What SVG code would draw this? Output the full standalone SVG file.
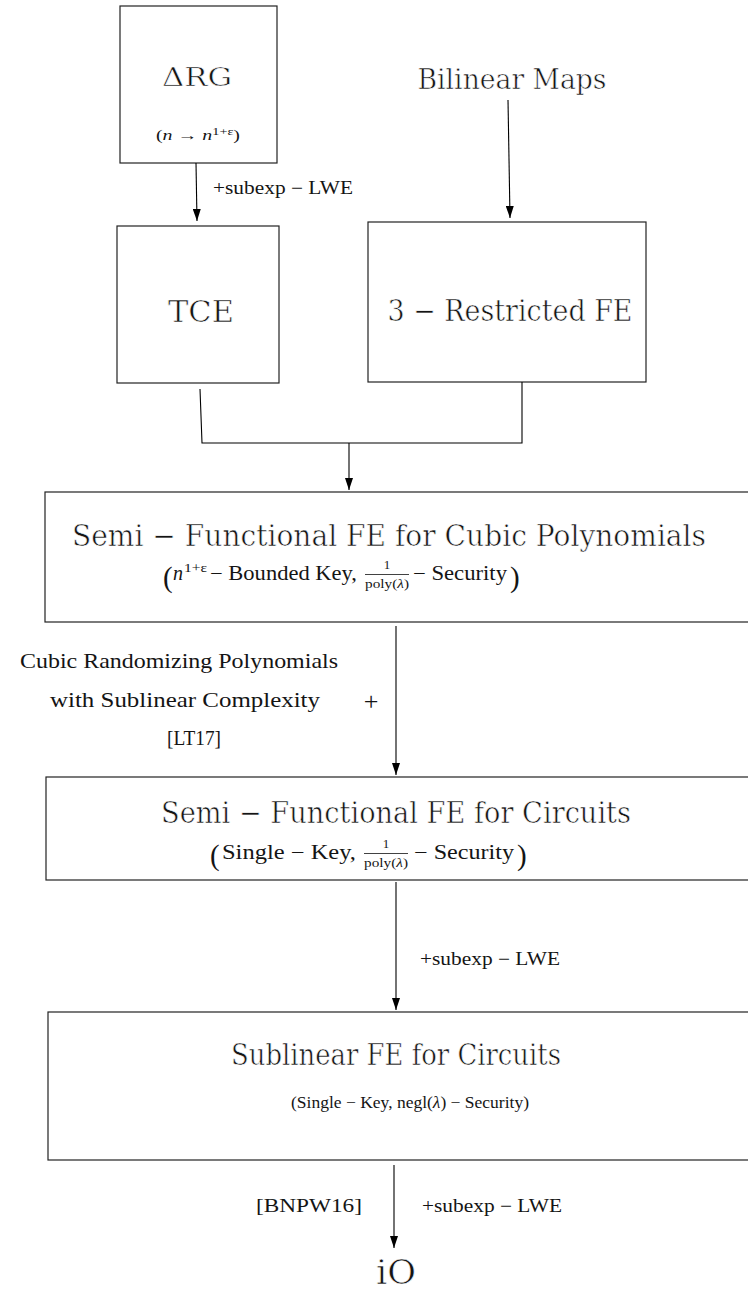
<svg xmlns="http://www.w3.org/2000/svg" width="748" height="1291" viewBox="0 0 748 1291">
<defs>
<marker id="arr" markerUnits="userSpaceOnUse" markerWidth="12" markerHeight="8" refX="12" refY="4" orient="auto">
<path d="M0,0 L12,4 L0,8 z" fill="#000"/>
</marker>
</defs>
<style>
.box{fill:none;stroke:#222;stroke-width:1.2}
.conn{fill:none;stroke:#000;stroke-width:1.1}
text{fill:#141414}
.m{text-anchor:middle}
.i{font-style:italic}
.bar{stroke:#111;stroke-width:0.8}
.A{font-family:'DejaVu Serif',serif;stroke:#fff;stroke-width:0.6}
.C{font-family:'Liberation Serif','Times New Roman',Times,serif}
</style>
<rect width="748" height="1291" fill="#fff"/>

<g id="node-drg">
<rect class="box" x="120" y="6" width="157" height="157"/>
<text class="A m" x="197" y="86" font-size="26" textLength="70" lengthAdjust="spacingAndGlyphs">ΔRG</text>
<text class="C m" x="198" y="140" font-size="14" textLength="84" lengthAdjust="spacingAndGlyphs">(<tspan class="i">n</tspan> → <tspan class="i">n</tspan><tspan font-size="10" dy="-5">1+ε</tspan><tspan dy="5">)</tspan></text>
</g>

<g id="node-bilinear">
<text class="A m" x="512" y="89" font-size="28" textLength="189" lengthAdjust="spacingAndGlyphs">Bilinear Maps</text>
</g>

<g id="node-tce">
<rect class="box" x="117" y="226" width="162" height="157"/>
<text class="A m" x="201" y="322" font-size="30" textLength="66" lengthAdjust="spacingAndGlyphs">TCE</text>
</g>

<g id="node-3rfe">
<rect class="box" x="368" y="222" width="278" height="160"/>
<text class="A m" x="510" y="321" font-size="30" textLength="245" lengthAdjust="spacingAndGlyphs">3 − Restricted FE</text>
</g>

<g id="node-sfe-cubic">
<rect class="box" x="45" y="492" width="720" height="130"/>
<text class="A m" x="389" y="546" font-size="29" textLength="634" lengthAdjust="spacingAndGlyphs">Semi − Functional FE for Cubic Polynomials</text>
<text class="C" x="163" y="587" font-size="29">(</text>
<text class="C i" x="173" y="580" font-size="20">n</text>
<text class="C" x="184" y="572" font-size="13" textLength="23" lengthAdjust="spacingAndGlyphs">1+ε</text>
<text class="C" x="210" y="580" font-size="20" textLength="147" lengthAdjust="spacingAndGlyphs">− Bounded Key,</text>
<text class="C m" x="387" y="569" font-size="13">1</text>
<line class="bar" x1="365" y1="574.5" x2="409" y2="574.5"/>
<text class="C m" x="387" y="588" font-size="13" textLength="44" lengthAdjust="spacingAndGlyphs">poly(<tspan class="i">λ</tspan>)</text>
<text class="C" x="413" y="580" font-size="20" textLength="94" lengthAdjust="spacingAndGlyphs">− Security</text>
<text class="C" x="510" y="587" font-size="29">)</text>
</g>

<g id="label-crp">
<text class="C m" x="179" y="668" font-size="21" textLength="318" lengthAdjust="spacingAndGlyphs">Cubic Randomizing Polynomials</text>
<text class="C m" x="185" y="707" font-size="21" textLength="270" lengthAdjust="spacingAndGlyphs">with Sublinear Complexity</text>
<text class="C m" x="194" y="745" font-size="21" textLength="54" lengthAdjust="spacingAndGlyphs">[LT17]</text>
<text class="C m" x="371" y="710" font-size="26">+</text>
</g>

<g id="node-sfe-circuits">
<rect class="box" x="46" y="777" width="720" height="103"/>
<text class="A m" x="396" y="823" font-size="29" textLength="470" lengthAdjust="spacingAndGlyphs">Semi − Functional FE for Circuits</text>
<text class="C" x="210" y="865" font-size="29">(</text>
<text class="C" x="222" y="859" font-size="20" textLength="134" lengthAdjust="spacingAndGlyphs">Single − Key,</text>
<text class="C m" x="386" y="848" font-size="13">1</text>
<line class="bar" x1="364" y1="853.5" x2="408" y2="853.5"/>
<text class="C m" x="386" y="867" font-size="13" textLength="44" lengthAdjust="spacingAndGlyphs">poly(<tspan class="i">λ</tspan>)</text>
<text class="C" x="414" y="859" font-size="20" textLength="100" lengthAdjust="spacingAndGlyphs">− Security</text>
<text class="C" x="517" y="865" font-size="29">)</text>
</g>

<g id="node-sublinear">
<rect class="box" x="48" y="1012" width="720" height="148"/>
<text class="A m" x="396" y="1065" font-size="29" textLength="330" lengthAdjust="spacingAndGlyphs">Sublinear FE for Circuits</text>
<text class="C m" x="410" y="1108" font-size="17" textLength="238" lengthAdjust="spacingAndGlyphs">(Single − Key,  negl(<tspan class="i">λ</tspan>) − Security)</text>
</g>

<g id="node-io">
<text class="A m" x="396" y="1284" font-size="33" textLength="40" lengthAdjust="spacingAndGlyphs">iO</text>
</g>

<g id="labels">
<text class="C" x="213" y="194" font-size="18" textLength="140" lengthAdjust="spacingAndGlyphs">+subexp − LWE</text>
<text class="C" x="420" y="965" font-size="18" textLength="140" lengthAdjust="spacingAndGlyphs">+subexp − LWE</text>
<text class="C" x="422" y="1212" font-size="18" textLength="140" lengthAdjust="spacingAndGlyphs">+subexp − LWE</text>
<text class="C" x="256" y="1212" font-size="18" textLength="106" lengthAdjust="spacingAndGlyphs">[BNPW16]</text>
</g>

<g id="connectors">
<path class="conn" d="M196,163 L197,221" marker-end="url(#arr)"/>
<path class="conn" d="M508,100 L510,218" marker-end="url(#arr)"/>
<path class="conn" d="M200,389 L202,443 L522,443 L522,382"/>
<path class="conn" d="M349,443 L349,490" marker-end="url(#arr)"/>
<path class="conn" d="M396,626 L396,775" marker-end="url(#arr)"/>
<path class="conn" d="M396,882 L396,1010" marker-end="url(#arr)"/>
<path class="conn" d="M394,1165 L394,1248" marker-end="url(#arr)"/>
</g>
</svg>
